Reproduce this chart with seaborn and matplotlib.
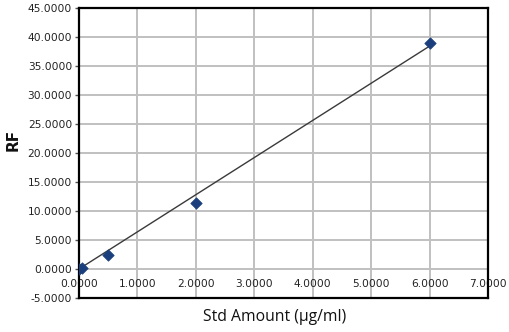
import numpy as np
import pandas as pd
import matplotlib
matplotlib.use("Agg")
import matplotlib.pyplot as plt
import seaborn as sns
from matplotlib.ticker import FormatStrFormatter

# Data
std_amount = [0.0, 0.05, 0.5, 2.0, 6.0]
rf_values = [0.0, 0.25, 2.4, 11.3, 39.0]
x_ticks = [0, 1, 2, 3, 4, 5, 6, 7]
y_ticks = [-5, 0, 5, 10, 15, 20, 25, 30, 35, 40, 45]

sns.set_style("white")
plt.rcParams['font.family'] = ['DejaVu Sans']

df = pd.DataFrame({"x": std_amount, "y": rf_values})
xa = np.array(std_amount)
ya = np.array(rf_values)
slope = (xa * ya).sum() / (xa * xa).sum()  # linear trendline through origin
trend = pd.DataFrame({"x": [0.0, xa.max()], "y": [0.0, slope * xa.max()]})

fig = plt.figure(figsize=(5.09, 3.32), dpi=100)
ax = fig.add_axes([79 / 509, 1 - 298 / 332, (488 - 79) / 509, (298 - 8) / 332])

ax.grid(True, color="#c0c0c0", linewidth=1.4, zorder=0)
ax.set_axisbelow(True)

sns.lineplot(data=trend, x="x", y="y", ax=ax, color="#3a3a3a", linewidth=1.0, zorder=2)
sns.scatterplot(data=df, x="x", y="y", ax=ax, marker="D", s=34, color="#1b3f7c",
                edgecolor="#1b3f7c", linewidth=0.5, zorder=3)

ax.set_xlim(0, 7)
ax.set_ylim(-5, 45)
ax.set_xticks(x_ticks)
ax.set_yticks(y_ticks)
ax.xaxis.set_major_formatter(FormatStrFormatter("%.4f"))
ax.yaxis.set_major_formatter(FormatStrFormatter("%.4f"))

for s in ["left", "right", "bottom", "top"]:
    ax.spines[s].set_color("black")
    ax.spines[s].set_linewidth(1.6)

ax.tick_params(axis="y", length=3, width=1, color="#555555", labelsize=7.7,
               labelcolor="#222222", pad=2, left=True)
ax.tick_params(axis="x", length=0, labelsize=7.7, labelcolor="#222222", pad=-13.5)

ax.set_xlabel("Std Amount (μg/ml)", fontsize=11.3, family=["Open Sans", "DejaVu Sans"],
              color="#111111")
ax.xaxis.set_label_coords((275 - 79) / 409, (298 - 317) / 290)
ax.xaxis.label.set_va("center")
ax.set_ylabel("RF", fontsize=11, fontweight="bold", color="#111111")
ax.yaxis.set_label_coords((13 - 79) / 409, (298 - 140) / 290)
ax.yaxis.label.set_va("center")

fig.savefig("out.png", dpi=100, facecolor="white")
